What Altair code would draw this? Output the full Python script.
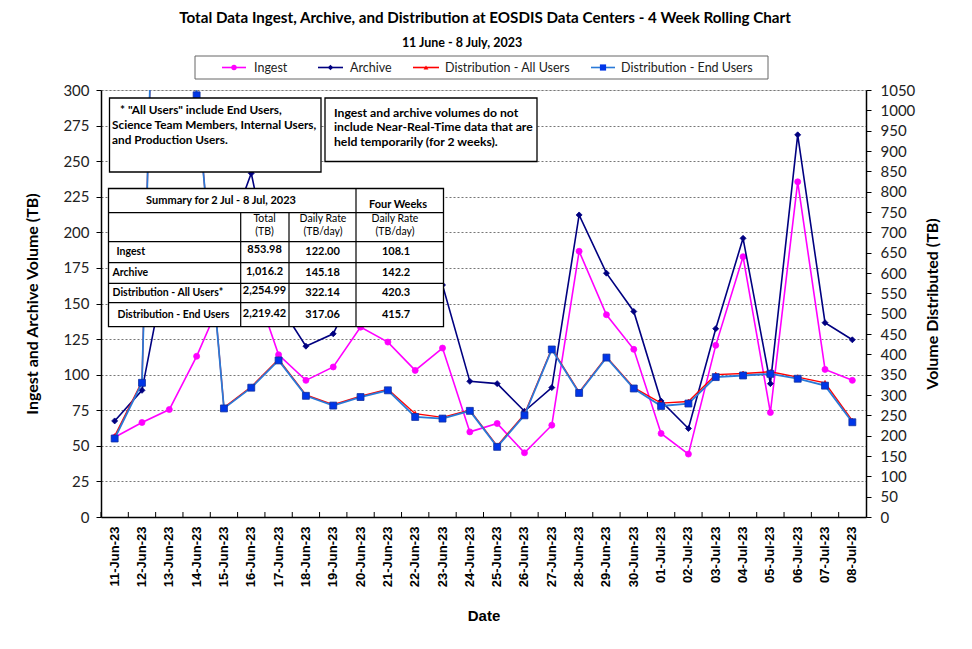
import altair as alt
import pandas as pd

# ---------------- data ----------------
dates = ["11-Jun-23", "12-Jun-23", "13-Jun-23", "14-Jun-23", "15-Jun-23", "16-Jun-23",
         "17-Jun-23", "18-Jun-23", "19-Jun-23", "20-Jun-23", "21-Jun-23", "22-Jun-23",
         "23-Jun-23", "24-Jun-23", "25-Jun-23", "26-Jun-23", "27-Jun-23", "28-Jun-23",
         "29-Jun-23", "30-Jun-23", "01-Jul-23", "02-Jul-23", "03-Jul-23", "04-Jul-23",
         "05-Jul-23", "06-Jul-23", "07-Jul-23", "08-Jul-23"]

ingest = [56, 66.4, 75.5, 112.9, 157, 170, 114, 96, 105.4, 133.4, 122.9, 103, 118.7, 59.8,
          65.7, 45.1, 64.5, 186.7, 142.1, 117.8, 58.7, 44.2, 120.6, 182.9, 73.4, 235.5, 103.7, 96.0]
archive = [67.5, 89, 188, 160, 189, 241.5, 150, 120, 128.7, 169, 160, 173, 163, 95.3,
           93.7, 74.3, 90.9, 212.2, 171.3, 144.4, 81.5, 62.2, 132.3, 195.8, 93.7, 268.5, 136.5, 124.5]
dist_all = [199, 333, 2830, 1037, 269, 320, 388, 300, 276, 297, 314, 254, 245, 263,
            175, 253, 414, 307, 394, 318, 280, 284, 350, 353, 357, 344, 330, 237]
dist_end = [193, 330, 2827, 1037, 267, 318, 385, 298, 274, 295, 311.5, 246, 242, 261,
            172.5, 250, 412, 305, 392, 316, 273, 279, 344, 348, 352, 340, 323, 233]

series_names = ["Ingest", "Archive", "Distribution - All Users", "Distribution - End Users"]

title_text = "Total Data Ingest, Archive, and  Distribution at EOSDIS Data Centers - 4 Week Rolling Chart"
subtitle_text = "11 June  - 8 July, 2023"

note1_lines = ['* "All Users" include End Users,', "Science Team Members,  Internal Users,",
               "and Production Users."]
note2_lines = ["Ingest and archive volumes do not", "include Near-Real-Time data that are",
               "held temporarily (for 2 weeks)."]

table_header = "Summary for 2 Jul  - 8 Jul, 2023"
table_four_weeks = "Four Weeks"
table_col_heads = [["Total", "(TB)"], ["Daily Rate", "(TB/day)"], ["Daily Rate", "(TB/day)"]]
table_rows = ["Ingest", "Archive", "Distribution - All Users*", "Distribution - End Users"]
week_total = ["853.98", "1,016.2", "2,254.99", "2,219.42"]
week_rate = ["122.00", "145.18", "322.14", "317.06"]
four_week_rate = ["108.1", "142.2", "420.3", "415.7"]

# ---------------- layout helpers ----------------
OX, OY = 101, 90          # plot-area origin in page pixels
W, H = 765, 427


def px(x):
    return x - OX


def py(y):
    return y - OY


rows = []
for name, vals in zip(series_names, [ingest, archive, dist_all, dist_end]):
    for d, v in zip(dates, vals):
        rows.append({"date": d, "series": name, "value": v})
df = pd.DataFrame(rows)
dummy = pd.DataFrame({"k": [0]})
base = alt.Chart(dummy)

x_axis = alt.Axis(title="Date", titleFont="Liberation Sans", titleFontSize=15, titleFontWeight="bold",
                  titleColor="black", titlePadding=22, labelAngle=270, labelAlign="right",
                  labelBaseline="middle", labelFont="Liberation Sans", labelFontSize=13,
                  labelFontWeight="bold", labelColor="black", labelPadding=9, ticks=False,
                  domainColor="black", domainWidth=1.5, grid=False)
x_scale = alt.Scale(type="band", domain=dates, paddingInner=0, paddingOuter=0)


def xenc(bp=0.5):
    return alt.X("date:N", sort=dates, scale=x_scale, axis=x_axis, bandPosition=bp)


left_axis = alt.Axis(orient="left", values=list(range(0, 301, 25)), format="d",
                     title="Ingest and Archive Volume (TB)", titleFont="Lato", titleFontSize=16,
                     titleFontWeight="bold", titleColor="black", titlePadding=22,
                     labelFont="Lato", labelFontSize=15, labelColor="#222", labelPadding=7,
                     tickColor="black", tickSize=5, domainColor="black", domainWidth=1.5,
                     grid=True, gridDash=[2, 2], gridColor="#777", gridWidth=1)
right_axis = alt.Axis(orient="right", values=list(range(0, 1051, 50)), format="d",
                      title="Volume Distributed (TB)", titleFont="Lato", titleFontSize=16,
                      titleFontWeight="bold", titleColor="black", titlePadding=26, titleAngle=270,
                      labelFont="Lato", labelFontSize=15, labelColor="#222", labelPadding=9,
                      tickColor="black", tickSize=5, domainColor="black", domainWidth=1.5,
                      grid=False)
left_scale = alt.Scale(domain=[0, 300], nice=False)
right_scale = alt.Scale(domain=[0, 1050], nice=False)

colors = {"Ingest": "#FF00FF", "Archive": "#000080",
          "Distribution - All Users": "#FF0000", "Distribution - End Users": "#2A7AD8"}
marker_colors = {"Ingest": "#FF00FF", "Archive": "#000080",
                 "Distribution - All Users": "#FF0000", "Distribution - End Users": "#0036E8"}
shapes = {"Ingest": "circle", "Archive": "diamond",
          "Distribution - All Users": "triangle-up", "Distribution - End Users": "square"}
sizes = {"Ingest": 36, "Archive": 36, "Distribution - All Users": 30, "Distribution - End Users": 48}


def series_layers(name, yscale, yaxis, width=1.6):
    src = alt.Chart(df).transform_filter(alt.datum.series == name)
    y = alt.Y("value:Q", scale=yscale, axis=yaxis)
    line = src.mark_line(color=colors[name], strokeWidth=width, clip=True).encode(x=xenc(), y=y)
    pts = src.mark_point(shape=shapes[name], filled=True, size=sizes[name], opacity=1,
                         color=marker_colors[name],
                         stroke="#1030A0" if name.endswith("End Users") else marker_colors[name],
                         strokeWidth=0.8, clip=True).encode(x=xenc(), y=y)
    return [line, pts]


left = alt.layer(*(series_layers("Ingest", left_scale, left_axis) +
                   series_layers("Archive", left_scale, left_axis)))
right = alt.layer(*(series_layers("Distribution - All Users", right_scale, right_axis, 1.4) +
                    series_layers("Distribution - End Users", right_scale, right_axis, 1.8)))

# inward x ticks at category boundaries
ticks = alt.Chart(pd.DataFrame({"date": dates})).mark_rule(color="black", strokeWidth=1).encode(
    x=xenc(0), y=alt.value(H - 5), y2=alt.value(H))


def rect(x1, y1, x2, y2, sw=1.3, stroke="black"):
    return base.mark_rect(fill="white", stroke=stroke, strokeWidth=sw).encode(
        x=alt.value(px(x1)), x2=alt.value(px(x2)), y=alt.value(py(y1)), y2=alt.value(py(y2)))


def hline(x1, x2, y, sw=1.2):
    return base.mark_rule(color="black", strokeWidth=sw).encode(
        x=alt.value(px(x1)), x2=alt.value(px(x2)), y=alt.value(py(y)))


def vline(x, y1, y2, sw=1.2):
    return base.mark_rule(color="black", strokeWidth=sw).encode(
        x=alt.value(px(x)), y=alt.value(py(y1)), y2=alt.value(py(y2)))


def txt(s, x, y, size=12, weight="bold", align="left", font="Lato", color="black"):
    return base.mark_text(text=s, align=align, baseline="middle", fontSize=size,
                          fontWeight=weight, font=font, color=color).encode(
        x=alt.value(px(x)), y=alt.value(py(y)))


ann = []
# titles
ann.append(txt(title_text, 485, 18, size=15.2, align="center"))
ann.append(txt(subtitle_text, 462, 43, size=12.5, align="center"))

# legend
ann.append(rect(195, 56, 768, 79, sw=1, stroke="#666"))
leg_items = [(222, 246, 254), (318, 343, 350), (413, 439, 445), (591, 615, 621)]
for name, (l1, l2, tx) in zip(series_names, leg_items):
    ly = 67.5
    ann.append(base.mark_rule(color=colors[name], strokeWidth=1.6).encode(
        x=alt.value(px(l1)), x2=alt.value(px(l2)), y=alt.value(py(ly))))
    ann.append(base.mark_point(shape=shapes[name], filled=True, size=sizes[name] * 0.8, opacity=1,
                               color=marker_colors[name]).encode(
        x=alt.value(px((l1 + l2) / 2)), y=alt.value(py(ly))))
    ann.append(txt(name, tx, ly, size=12.5, weight="normal", color="#222"))

# note box 1
ann.append(rect(109.5, 98, 321, 172))
for i, line in enumerate(note1_lines):
    ann.append(txt(line, 112 if i else 120, 109.5 + 15.2 * i, size=11.8))
# note box 2
ann.append(rect(325, 98, 537, 161.5))
for i, line in enumerate(note2_lines):
    ann.append(txt(line, 334, 112.5 + 14.8 * i, size=12.2))

# summary table
cols = [108.5, 240.7, 289, 356, 443.5]
rws = [188.5, 212.7, 241.7, 262.7, 283.3, 302.7, 326.7]
ann.append(rect(cols[0], rws[0], cols[-1], rws[-1]))
for r in rws[1:-1]:
    ann.append(hline(cols[0], cols[-1], r))
ann.append(vline(cols[1], rws[1], rws[-1]))
ann.append(vline(cols[2], rws[1], rws[-1]))
ann.append(vline(cols[3], rws[0], rws[-1]))
ann.append(txt(table_header, 221, 200.5, size=11, align="center"))
ann.append(txt(table_four_weeks, 398, 204.5, size=11, align="center"))
for (top, bot), cx in zip(table_col_heads, [264.5, 323, 395]):
    ann.append(txt(top, cx, 218.5, size=10.5, weight="normal", align="center"))
    ann.append(txt(bot, cx, 232, size=10.5, weight="normal", align="center"))
lab_x = [116.5, 112.5, 112.5, 117.5]
row_y = [251.5, 273, 292.5, 315]
for lab, lx, ry, t, d, f in zip(table_rows, lab_x, row_y, week_total, week_rate, four_week_rate):
    ann.append(txt(lab, lx, ry, size=10.5))
    ann.append(txt(t, 264.5, ry - 1.5, size=11, align="center"))
    ann.append(txt(d, 322.5, ry, size=11, align="center"))
    ann.append(txt(f, 396, ry, size=11, align="center"))

chart = alt.layer(left, right, ticks, *ann).resolve_scale(y="independent").properties(
    width=W, height=H, autosize=alt.AutoSizeParams(type="none"),
    padding={"left": 93, "top": 82, "right": 98, "bottom": 124},
).configure_view(stroke="black", strokeWidth=1.5).configure(background="white")

chart.save("out.html", embed_options={"renderer": "svg", "actions": False})
